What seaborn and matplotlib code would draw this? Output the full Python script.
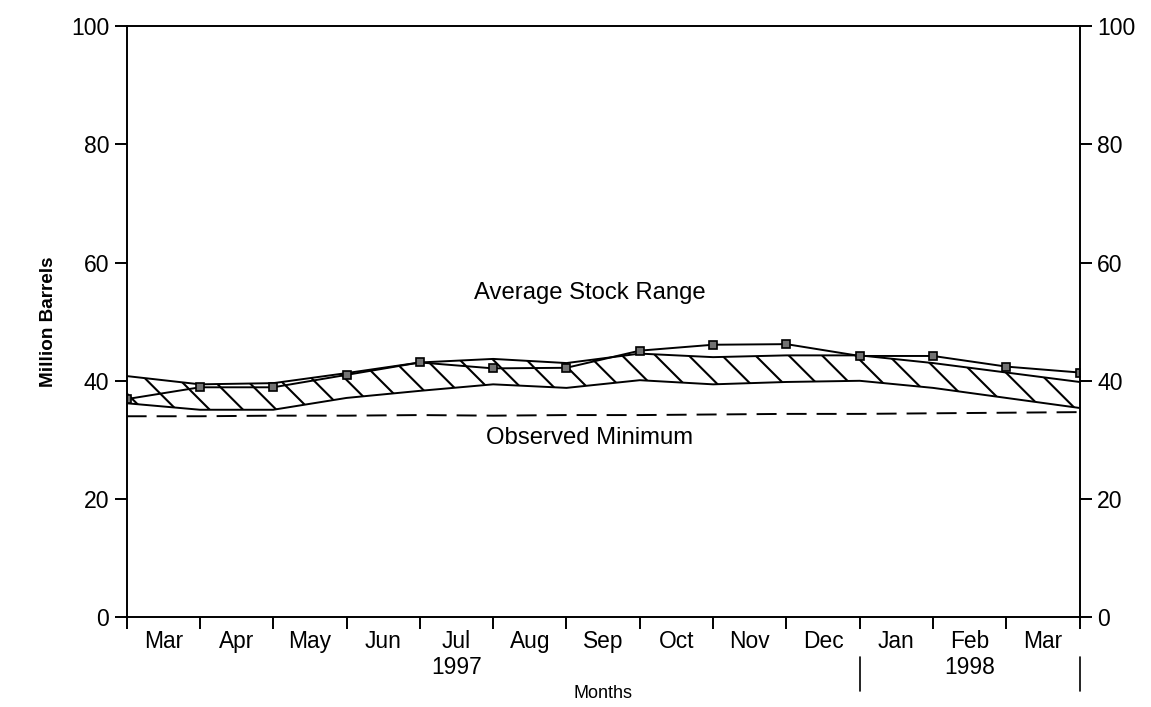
import numpy as np
import pandas as pd
import matplotlib
matplotlib.use('Agg')
import matplotlib.pyplot as plt
import seaborn as sns

# month boundaries Mar 1997 .. Mar 1998 (values read at each boundary)
month_pos = np.arange(14)
stock = [36.9, 38.9, 38.9, 41.0, 43.1, 42.1, 42.2, 45.1, 46.1, 46.2, 44.2, 44.2, 42.4, 41.4]
range_high = [40.8, 39.4, 39.6, 41.3, 43.1, 43.7, 43.0, 44.6, 44.0, 44.3, 44.3, 43.0, 41.4, 39.8]
range_low = [36.2, 35.1, 35.1, 37.1, 38.3, 39.4, 38.8, 40.1, 39.4, 39.8, 40.0, 38.8, 37.1, 35.4]
obs_min = [34.0, 34.0, 34.1, 34.1, 34.2, 34.1, 34.2, 34.2, 34.3, 34.4, 34.4, 34.5, 34.6, 34.7]
month_labels = ['Mar', 'Apr', 'May', 'Jun', 'Jul\n1997', 'Aug', 'Sep', 'Oct',
                'Nov', 'Dec', 'Jan', 'Feb\n1998', 'Mar']
y_ticks = [0, 20, 40, 60, 80, 100]

df = pd.DataFrame({'pos': month_pos, 'stock': stock, 'high': range_high,
                   'low': range_low, 'min': obs_min})

sns.set_style('ticks')
plt.rcParams['font.family'] = ['Liberation Sans', 'DejaVu Sans']
plt.rcParams['hatch.linewidth'] = 0.75
plt.rcParams['lines.scale_dashes'] = False
for k in ['text.color', 'axes.labelcolor', 'xtick.color', 'ytick.color']:
    plt.rcParams[k] = 'k'

fig = plt.figure(figsize=(5.755, 3.535), dpi=200)
ax = fig.add_axes([0.110, 0.127, 0.828, 0.836])

# hatched average range
ax.fill_between(df['pos'], df['low'], df['high'], facecolor='none',
                edgecolor='k', hatch='\\\\', linewidth=0)
sns.lineplot(data=df, x='pos', y='high', color='k', lw=0.7, ax=ax)
sns.lineplot(data=df, x='pos', y='low', color='k', lw=0.7, ax=ax)
sns.lineplot(data=df, x='pos', y='stock', color='k', lw=0.7, marker='s',
             markersize=2.8, markerfacecolor='0.45', markeredgecolor='k',
             markeredgewidth=0.6, ax=ax)
sns.lineplot(data=df, x='pos', y='min', color='k', lw=0.7,
             linestyle=(0, (7.2, 3.6)), ax=ax)

ax.text(6.32, 54.9, 'Average Stock Range', ha='center', va='center', fontsize=8.6)
ax.text(6.31, 30.3, 'Observed Minimum', ha='center', va='center', fontsize=8.6)

ax.set_xlim(0, 13)
ax.set_ylim(0, 100)
ax.set_xticks(month_pos)
ax.set_xticklabels([])
label_pos = (month_pos[:-1] + month_pos[1:]) / 2
ax.set_xticks(label_pos, minor=True)
ax.set_xticklabels(month_labels, minor=True, fontsize=8.2)
ax.tick_params(axis='x', which='major', length=4.3, width=0.7, direction='out')
ax.tick_params(axis='x', which='minor', length=0, pad=4.5)
ax.set_yticks(y_ticks)
ax.tick_params(axis='y', length=4.3, width=0.7, direction='out', labelsize=8.3,
               left=True, right=True, labelleft=True, labelright=True, pad=2)

# year separators below the axis
for xv in [10, 13]:
    ax.axvline(xv, ymin=-0.124, ymax=-0.068, color='k', lw=0.6, clip_on=False)

for s in ax.spines.values():
    s.set_linewidth(0.7)
    s.set_color('k')

ax.set_xlabel('Months', fontsize=6.5, labelpad=2)
ax.set_ylabel('Million Barrels', fontsize=6.8, fontweight='bold', labelpad=5)

fig.savefig('out.png', dpi=200)
